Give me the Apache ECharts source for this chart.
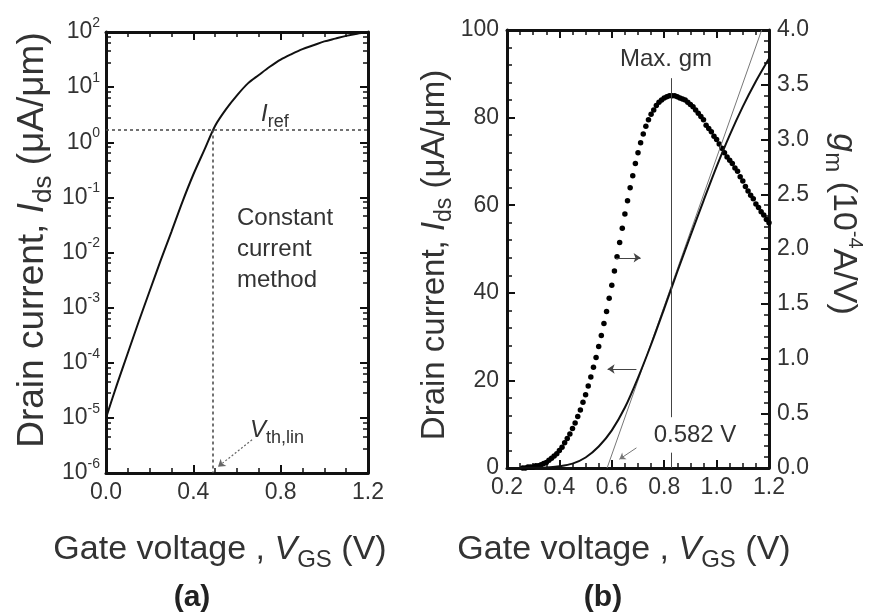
<!DOCTYPE html>
<html>
<head>
<meta charset="utf-8">
<script src="https://cdn.jsdelivr.net/npm/echarts@6/dist/echarts.min.js"></script>
<style>
  html, body { margin: 0; padding: 0; background: #fff; }
  #chart { width: 869px; height: 616px; }
</style>
</head>
<body>
<div id="chart"></div>
<script>
// ---- (a) drain current on a log scale ----
const vgsA = [0.00, 0.05, 0.10, 0.15, 0.20, 0.25, 0.30, 0.35, 0.40, 0.45, 0.50, 0.55, 0.60,
              0.65, 0.70, 0.75, 0.80, 0.85, 0.90, 0.95, 1.00, 1.05, 1.10, 1.15, 1.20];
const idsA = [1.0e-5, 4.0e-5, 1.5e-4, 5.6e-4, 2.0e-3, 7.1e-3, 2.4e-2, 8.3e-2, 0.26, 0.72, 2.0, 4.0, 7.1,
              11.7, 16.6, 23.4, 31.6, 39.8, 49.0, 57.5, 67.6, 75.9, 85.1, 93.3, 100];
const I_REF = 1.7;      // μA/μm, constant-current criterion
const V_TH_LIN = 0.49;  // V, where the curve crosses I_REF

// ---- (b) drain current (linear) and transconductance ----
const vgsB = [0.20, 0.25, 0.30, 0.35, 0.40, 0.45, 0.50, 0.55, 0.60, 0.65, 0.70,
              0.75, 0.80, 0.85, 0.90, 0.95, 1.00, 1.05, 1.10, 1.15, 1.20];
const idsB = [0, 0, 0.05, 0.1, 0.4, 1.0, 2.4, 4.9, 8.6, 13.8, 20.6,
              28.2, 36.4, 44.8, 53.0, 61.0, 68.8, 76.0, 82.5, 88.3, 93.5];

const vgsGm = [0.26, 0.27, 0.28, 0.29, 0.30, 0.31, 0.32, 0.33, 0.34, 0.35, 0.36, 0.37, 0.38, 0.39,
               0.40, 0.41, 0.42, 0.43, 0.44, 0.45, 0.46, 0.47, 0.48, 0.49, 0.50, 0.51, 0.52, 0.53,
               0.54, 0.55, 0.56, 0.57, 0.58, 0.59, 0.60, 0.61, 0.62, 0.63, 0.64, 0.65, 0.66, 0.67,
               0.68, 0.69, 0.70, 0.71, 0.72, 0.73, 0.74, 0.75, 0.76, 0.77, 0.78, 0.79, 0.80, 0.81,
               0.82, 0.83, 0.84, 0.85, 0.86, 0.87, 0.88, 0.89, 0.90, 0.91, 0.92, 0.93, 0.94, 0.95,
               0.96, 0.97, 0.98, 0.99, 1.00, 1.01, 1.02, 1.03, 1.04, 1.05, 1.06, 1.07, 1.08, 1.09,
               1.10, 1.11, 1.12, 1.13, 1.14, 1.15, 1.16, 1.17, 1.18, 1.19, 1.20];
const gm = [0.00, 0.00, 0.01, 0.01, 0.01, 0.02, 0.02, 0.03, 0.04, 0.05, 0.07, 0.09, 0.11, 0.13,
            0.16, 0.19, 0.23, 0.27, 0.31, 0.36, 0.41, 0.47, 0.53, 0.60, 0.67, 0.75, 0.83, 0.92,
            1.01, 1.11, 1.21, 1.32, 1.43, 1.55, 1.67, 1.80, 1.93, 2.06, 2.19, 2.32, 2.44, 2.56,
            2.67, 2.78, 2.88, 2.97, 3.05, 3.12, 3.18, 3.23, 3.27, 3.31, 3.34, 3.36, 3.38, 3.39,
            3.40, 3.40, 3.40, 3.39, 3.38, 3.37, 3.36, 3.34, 3.32, 3.30, 3.27, 3.24, 3.21, 3.18,
            3.13, 3.10, 3.07, 3.03, 3.00, 2.96, 2.92, 2.88, 2.84, 2.81, 2.78, 2.74, 2.71, 2.66,
            2.62, 2.57, 2.53, 2.49, 2.46, 2.41, 2.38, 2.34, 2.31, 2.27, 2.24];

// measured points used for the tangent fit around the gm peak
const vgsFit = [0.77, 0.78, 0.79, 0.80, 0.81, 0.82, 0.83, 0.84, 0.85, 0.86, 0.87, 0.88];
const idsFit = [31.4, 33.1, 34.7, 36.4, 38.1, 39.7, 41.4, 43.1, 44.8, 46.4, 48.1, 49.7];

const V_TH_GM = 0.582;   // V, tangent intercept
const V_GM_MAX = 0.828;  // V, gm peak
const tangentV = [V_TH_GM, 1.172];
const tangentIds = [0, 100];

const FONT = '"Liberation Sans", Arial, Helvetica, sans-serif';
const INK = '#111';
const TXT = '#333';

const pairs = (xs, ys) => xs.map((x, i) => [x, ys[i]]);

function frameAxis(gridIndex, position, extra, minorSplit) {
  return Object.assign({
    gridIndex: gridIndex,
    position: position,
    type: 'value',
    axisLine: { show: true, onZero: false, lineStyle: { color: INK, width: 3 } },
    axisTick: { show: true, inside: true, length: 8, lineStyle: { color: INK, width: 2 } },
    minorTick: { show: true, splitNumber: minorSplit || 4, length: 5, lineStyle: { color: INK, width: 1.5 } },
    splitLine: { show: false },
    minorSplitLine: { show: false },
    axisLabel: { show: false }
  }, extra);
}

function tickLabels(fmt, extra) {
  return Object.assign({
    show: true, color: TXT, fontSize: 23, fontFamily: FONT, margin: 8,
    showMinLabel: true, showMaxLabel: true, formatter: fmt
  }, extra || {});
}

const fixed1 = v => Number(v).toFixed(1);

function titleRich(size) {
  return {
    n: { fontSize: size, fontFamily: FONT, lineHeight: size + 10, fill: TXT },
    i: { fontSize: size, fontFamily: FONT, fontStyle: 'italic', lineHeight: size + 10, fill: TXT },
    sub: { fontSize: Math.round(size * 0.7), fontFamily: FONT, verticalAlign: 'bottom', fill: TXT },
    sup: { fontSize: Math.round(size * 0.6), fontFamily: FONT, verticalAlign: 'top', fill: TXT }
  };
}
const noteRich = {
  i: { fontSize: 24, fontFamily: FONT, fontStyle: 'italic', lineHeight: 34, fill: TXT },
  sub: { fontSize: 18, fontFamily: FONT, verticalAlign: 'bottom', fill: TXT }
};

function label(x, y, str, rich, opts) {
  return Object.assign({
    type: 'text', x: x, y: y, silent: true,
    style: Object.assign({ text: str, rich: rich, align: 'center', verticalAlign: 'middle', fill: TXT,
             fontFamily: FONT, fontSize: 24 }, (opts && opts.style) || {})
  }, opts ? { rotation: opts.rotation || 0 } : {});
}

const chart = echarts.init(document.getElementById('chart'), null, { renderer: 'canvas' });

chart.setOption({
  animation: false,
  backgroundColor: '#fff',
  grid: [
    { left: 106, top: 32, width: 262, height: 441 },
    { left: 507, top: 30, width: 262, height: 438 }
  ],
  xAxis: [
    frameAxis(0, 'bottom', { min: 0, max: 1.2, interval: 0.4, axisLabel: tickLabels(fixed1) }),
    frameAxis(0, 'top', { min: 0, max: 1.2, interval: 0.4 }),
    frameAxis(1, 'bottom', { min: 0.2, max: 1.2, interval: 0.2, axisLabel: tickLabels(fixed1) }),
    frameAxis(1, 'top', { min: 0.2, max: 1.2, interval: 0.2 })
  ],
  yAxis: [
    frameAxis(0, 'left', { type: 'log', logBase: 10, min: 1e-6, max: 100, splitNumber: 8,
      axisLabel: tickLabels(v => '{b|10}{s|' + Math.round(Math.log10(v)) + '}', {
        margin: 6,
        rich: {
          b: { fontSize: 23, fontFamily: FONT, color: TXT, lineHeight: 32 },
          s: { fontSize: 14, fontFamily: FONT, color: TXT, verticalAlign: 'top' }
        }
      }) }, 5),
    frameAxis(0, 'right', { type: 'log', logBase: 10, min: 1e-6, max: 100, splitNumber: 8 }, 5),
    frameAxis(1, 'left', { min: 0, max: 100, interval: 20, axisLabel: tickLabels(v => String(v)) }, 5),
    frameAxis(1, 'right', { min: 0, max: 4, interval: 0.5, axisLabel: tickLabels(fixed1) }, 5)
  ],
  series: [
    {
      name: 'Ids (log)', type: 'line', xAxisIndex: 0, yAxisIndex: 0,
      data: pairs(vgsA, idsA), showSymbol: false, smooth: 0.3,
      lineStyle: { color: INK, width: 2 },
      markLine: {
        silent: true, symbol: 'none', label: { show: false },
        lineStyle: { color: '#444', width: 1.5, type: [3, 3] },
        data: [
          [{ coord: [0, I_REF] }, { coord: [1.2, I_REF] }],
          [{ coord: [V_TH_LIN, I_REF] }, { coord: [V_TH_LIN, 1e-6] }],
          [{ coord: [0.669, 4.0e-6], symbol: 'none' },
           { coord: [0.513, 1.3e-6], symbol: 'arrow', symbolSize: 7,
             lineStyle: { color: '#666', width: 1.2, type: [2, 2] } }]
        ]
      }
    },
    {
      name: 'tangent', type: 'line', xAxisIndex: 2, yAxisIndex: 2,
      data: pairs(tangentV, tangentIds), showSymbol: false,
      lineStyle: { color: '#777', width: 1 }
    },
    {
      name: 'Ids (linear)', type: 'line', xAxisIndex: 2, yAxisIndex: 2,
      data: pairs(vgsB, idsB), showSymbol: false, smooth: 0.3,
      lineStyle: { color: INK, width: 2 },
      markLine: {
        silent: true, symbol: 'none', label: { show: false },
        lineStyle: { color: '#444', width: 1, type: 'solid' },
        data: [
          [{ coord: [V_GM_MAX, 89] }, { coord: [V_GM_MAX, 11.6] }],
          [{ coord: [V_GM_MAX, 3.5] }, { coord: [V_GM_MAX, 0] }],
          [{ coord: [0.694, 22.6], symbol: 'none' },
           { coord: [0.584, 22.6], symbol: 'arrow', symbolSize: 7 }],
          [{ coord: [0.694, 4.6], symbol: 'none' },
           { coord: [0.629, 2.0], symbol: 'arrow', symbolSize: 6,
             lineStyle: { color: '#777', width: 1 } }]
        ]
      }
    },
    {
      name: 'fit points', type: 'scatter', xAxisIndex: 2, yAxisIndex: 2,
      data: pairs(vgsFit, idsFit), symbol: 'emptyCircle', symbolSize: 5,
      itemStyle: { color: '#fff', borderColor: '#333', borderWidth: 1 }
    },
    {
      name: 'gm', type: 'scatter', xAxisIndex: 2, yAxisIndex: 3,
      data: pairs(vgsGm, gm), symbol: 'circle', symbolSize: 5.5,
      itemStyle: { color: '#000', opacity: 1 },
      markLine: {
        silent: true, symbol: 'none', label: { show: false },
        lineStyle: { color: '#444', width: 1, type: 'solid' },
        data: [
          [{ coord: [0.615, 1.92], symbol: 'none' },
           { coord: [0.71, 1.92], symbol: 'arrow', symbolSize: 7 }]
        ]
      }
    }
  ],
  graphic: [
    // axis titles
    label(33, 240, '{n|Drain current, }{i|I}{sub|ds}{n| (μA/μm)}', titleRich(37), { rotation: Math.PI / 2 }),
    label(435, 255, '{n|Drain current, }{i|I}{sub|ds}{n| (μA/μm)}', titleRich(33), { rotation: Math.PI / 2 }),
    label(843, 224, '{i|g}{sub|m}{n| (10}{sup|-4}{n|A/V)}', titleRich(34), { rotation: -Math.PI / 2 }),
    label(220, 550, '{n|Gate voltage , }{i|V}{sub|GS}{n| (V)}', titleRich(34)),
    label(624, 550, '{n|Gate voltage , }{i|V}{sub|GS}{n| (V)}', titleRich(34)),
    // panel tags
    label(192, 598, '(a)', null, { style: { fill: '#222', fontSize: 30, fontWeight: 'bold' } }),
    label(603, 598, '(b)', null, { style: { fill: '#222', fontSize: 30, fontWeight: 'bold' } }),
    // annotations, panel (a)
    label(261, 114, '{i|I}{sub|ref}', noteRich, { style: { align: 'left' } }),
    label(250, 430, '{i|V}{sub|th,lin}', noteRich, { style: { align: 'left' } }),
    label(237, 203, 'Constant\ncurrent\nmethod', null,
      { style: { lineHeight: 31, align: 'left', verticalAlign: 'top' } }),
    // annotations, panel (b)
    label(666, 59, 'Max. gm'),
    label(695, 435, '0.582 V')
  ]
});
</script>
</body>
</html>
